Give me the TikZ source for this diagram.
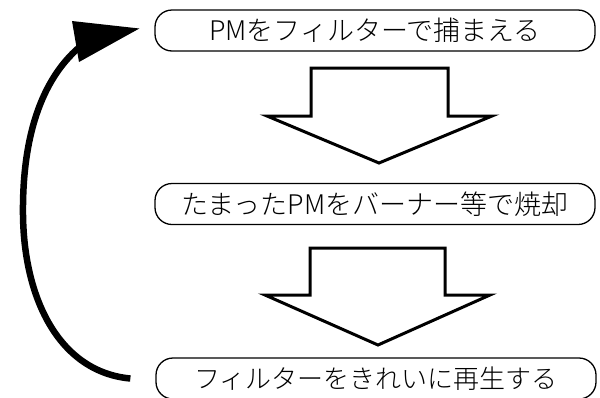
\documentclass[tikz,border=0pt]{standalone}
\usepackage{fontspec}
\IfFontExistsTF{Noto Sans CJK JP Light}
  {\newfontfamily\jp{Noto Sans CJK JP Light}}
  {\newfontfamily\jp{Noto Sans CJK JP}}
\tikzset{
  stepbox/.style={draw, line width=1.3pt, rounded corners=17pt, minimum width=440pt,
    minimum height=41pt, inner sep=0pt, font=\jp\fontsize{27pt}{29pt}\selectfont},
  blockarrow/.style={draw, line width=3pt, fill=white, line join=miter},
  loopline/.style={line width=6.5pt},
  loophead/.style={fill=black},
}
\begin{document}
\begin{tikzpicture}[x=1pt,y=-1pt]
\useasboundingbox (0,0) rectangle (600,397);
\node[stepbox] (b1) at (375,30.5) {PMをフィルターで捕まえる};
\node[stepbox] (b2) at (375,204) {たまったPMをバーナー等で焼却};
\node[stepbox, font=\jp\fontsize{26pt}{28pt}\selectfont] (b3) at (376,378.5) {フィルターをきれいに再生する};
% block arrows
\draw[blockarrow] (311,68) -- (448,68) -- (448,116) -- (492,116) -- (379,163)
  -- (267,116) -- (311,116) -- cycle;
\draw[blockarrow] (310,248) -- (445,248) -- (445,295) -- (490,295) -- (378,345)
  -- (265,295) -- (310,295) -- cycle;
% return loop
\coordinate (tail) at ([xshift=-25pt]b3.west);
\coordinate (tip) at ([xshift=-15pt,yshift=2pt]b1.west);
\coordinate (headbase) at (82,45);
\draw[loopline] (tail) .. controls (60,372) and (24,300) .. (23,215)
  .. controls (22,130) and (45,75) .. (headbase);
\fill[loophead] (tip) -- (72,21) -- (79,62) -- cycle;
\end{tikzpicture}
\end{document}
